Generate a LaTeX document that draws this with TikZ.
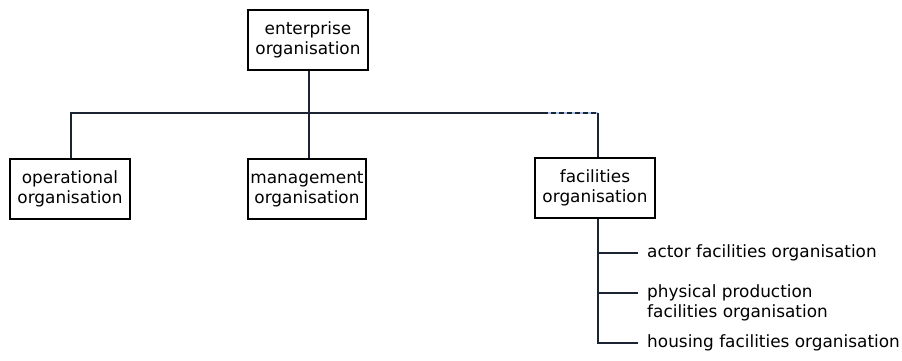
\documentclass[tikz,border=0pt]{standalone}
\usepackage{fontspec}
\setmainfont{DejaVu Sans}
\begin{document}
\begin{tikzpicture}[x=1pt,y=-1pt,
  wire/.style={draw=linecol, line width=1.2pt},
  orgbox/.style={draw=black, line width=1.2pt, fill=white, inner sep=0pt,
    minimum width=120pt, minimum height=60pt, align=center,
    font=\fontsize{16.9}{20}\selectfont},
  leaf/.style={anchor=west, inner sep=0pt, align=left,
    font=\fontsize{16.9}{20}\selectfont}]
\definecolor{linecol}{HTML}{1C2333}
\definecolor{dashblue}{HTML}{A9C2E6}
\useasboundingbox (0,0) rectangle (902,360);

% boxes
\node[orgbox] (ent) at (308,40) {enterprise\\organisation};
\node[orgbox] (ops) at (70,189) {operational\\organisation};
\node[orgbox, minimum width=118pt] (mgt) at (307,189) {management\\organisation};
\node[orgbox] (fac) at (595,188) {facilities\\organisation};

% bus joining the second level
\coordinate (busL) at (71,113);
\coordinate (busM) at (309,113);
\coordinate (busD) at (543,113);
\coordinate (busR) at (598,113);
\draw[wire] (ent.south -| busM) -- (busM);
\draw[wire] (busM) -- (mgt.north -| busM);
\draw[wire] (ops.north -| busL) -- (busL) -- (busD);
\draw[dashblue, line width=1.2pt] (busD) -- (busR);
\draw[wire, dash pattern=on 5pt off 3pt] (busD) -- (busR);
\draw[wire] (busR) -- (fac.north -| busR);

% facilities breakdown
\coordinate (t0) at (598,218);
\coordinate (t1) at (598,253);
\coordinate (t2) at (598,293);
\coordinate (t3) at (598,343);
\node[leaf] (a1) at (647,253) {actor facilities organisation};
\node[leaf] (a2) at (647,303) {physical production\\facilities organisation};
\node[leaf] (a3) at (647,343) {housing facilities organisation};
\draw[wire] (fac.south -| t0) -- (t3) -- ([xshift=-9pt]a3.west);
\draw[wire] (t1) -- ([xshift=-9pt]a1.west);
\draw[wire] (t2) -- ([xshift=-9pt]a2.west |- t2);
\end{tikzpicture}
\end{document}
